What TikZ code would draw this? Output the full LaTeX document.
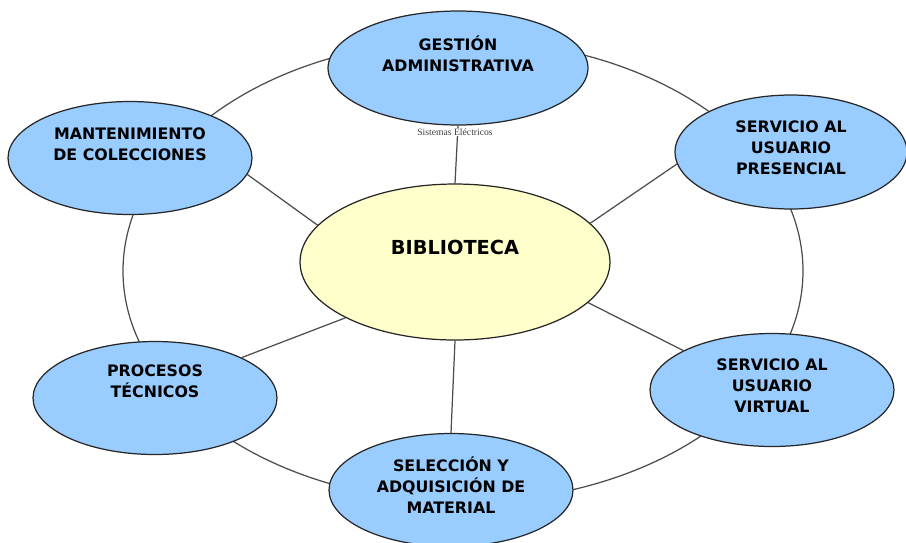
\documentclass[tikz,border=0pt]{standalone}
\usepackage{fontspec}
\setsansfont{DejaVu Sans}
\newfontfamily\notefont{Liberation Serif}
\usetikzlibrary{shapes.geometric,backgrounds}
\definecolor{unitblue}{RGB}{153,204,255}
\definecolor{hubyellow}{RGB}{255,255,204}
\newcommand{\unittext}[2]{\raisebox{#1}[0pt][0pt]{\begin{tabular}{@{}c@{}}#2\end{tabular}}}

\begin{document}
\begin{tikzpicture}[x=0.02cm,y=-0.02cm,
  unit/.style={ellipse,draw=black!85,line width=0.7pt,fill=unitblue,inner sep=0pt,
    minimum width=4.88cm,minimum height=2.26cm,font=\sffamily\bfseries\fontsize{9}{12}\selectfont},
  hub/.style={unit,fill=hubyellow,minimum width=6.2cm,minimum height=3.12cm,
    font=\sffamily\bfseries\fontsize{11}{13}\selectfont},
  ring/.style={draw=black!70,line width=0.7pt},
  spoke/.style={draw=black!70,line width=0.7pt},
  note/.style={font=\notefont\fontsize{5.5}{6}\selectfont,text=black!75,fill=white,inner sep=0.5pt}]
\useasboundingbox (0,0) rectangle (906,542);
%the units round the library
\node [note] (note) at (455,132) {Sistemas Eléctricos};
\node [hub] (bib) at (455,262) {\unittext{4pt}{BIBLIOTECA}};
\node [unit,minimum width=5.2cm,minimum height=2.28cm] (gest) at (458,68) {\unittext{4.2pt}{GESTIÓN\\ADMINISTRATIVA}};
\node [unit] (mant) at (130,158) {\unittext{4.5pt}{MANTENIMIENTO\\DE COLECCIONES}};
\node [unit,minimum width=4.64cm,minimum height=2.28cm] (pres) at (791,152) {\unittext{-0.6pt}{SERVICIO AL\\USUARIO\\PRESENCIAL}};
\node [unit] (proc) at (155,398) {\unittext{6.2pt}{PROCESOS\\TÉCNICOS}};
\node [unit] (virt) at (772,390) {\unittext{-0.6pt}{SERVICIO AL\\USUARIO\\VIRTUAL}};
\node [unit] (sel) at (451,490) {\unittext{-1.2pt}{SELECCIÓN Y\\ADQUISICIÓN DE\\MATERIAL}};
%ring and spokes behind the units
\begin{pgfonlayer}{background}
\draw[ring] (463,271) ellipse [x radius=340, y radius=231];

\draw[spoke] (bib.north) -- (gest.south);

\draw[spoke] (bib.165) -- (mant.-8);

\draw[spoke] (bib.16) -- (pres.186);

\draw[spoke] (bib.-153) -- (proc.25);

\draw[spoke] (bib.-17) -- (virt.156);

\draw[spoke] (bib.south) -- (sel.north);
\end{pgfonlayer}
\end{tikzpicture}
\end{document}
